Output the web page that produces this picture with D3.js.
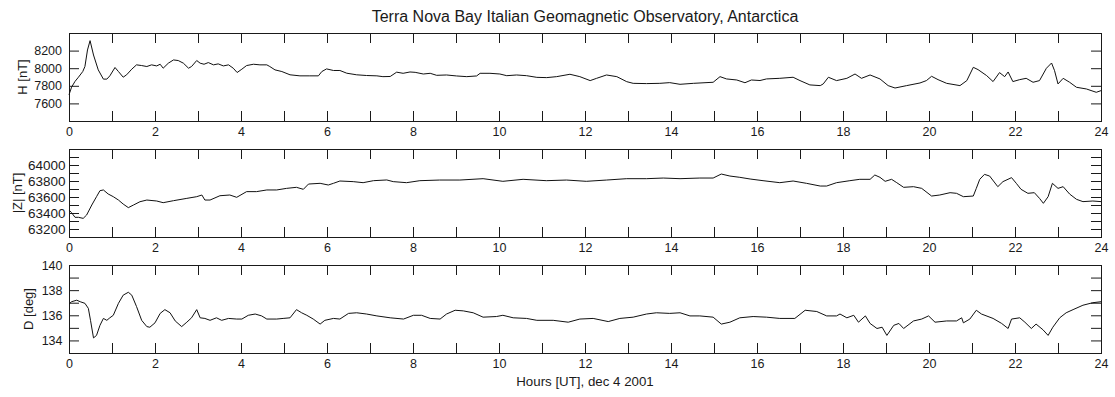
<!DOCTYPE html>
<html>
<head>
<meta charset="utf-8">
<script src="https://cdn.jsdelivr.net/npm/d3@7"></script>
<style>
  html, body { margin: 0; padding: 0; background: #fff; }
  svg { display: block; font-family: "Liberation Sans", Arial, sans-serif; }
</style>
</head>
<body>
<svg id="chart" width="1115" height="397"></svg>
<script>
// Terra Nova Bay magnetometer record, 4 Dec 2001 (hours UT vs. field value)
const hTime = [0,0.06,0.14,0.22,0.32,0.37,0.43,0.49,0.57,0.68,0.80,0.88,0.95,1.07,1.15,1.26,1.34,1.46,1.57,1.69,1.81,1.92,2.04,2.12,2.19,2.31,2.43,2.54,2.66,2.78,2.85,2.97,3.05,3.14,3.24,3.36,3.47,3.59,3.71,3.82,3.91,4.02,4.13,4.29,4.44,4.60,4.67,4.79,4.95,5.14,5.37,5.60,5.80,5.88,5.99,6.15,6.30,6.46,6.69,6.92,7.16,7.30,7.47,7.62,7.77,7.93,8.05,8.24,8.40,8.55,8.78,9.01,9.25,9.48,9.56,9.79,10.02,10.18,10.41,10.64,10.88,11.11,11.34,11.65,11.88,12.12,12.27,12.50,12.74,12.97,13.12,13.43,13.74,13.97,14.21,14.52,14.98,15.14,15.29,15.53,15.72,15.87,16.07,16.22,16.53,16.84,17.00,17.23,17.47,17.54,17.66,17.85,18.09,18.28,18.43,18.63,18.86,19.05,19.21,19.48,19.79,19.94,20.06,20.21,20.41,20.72,20.88,21.03,21.14,21.34,21.49,21.64,21.76,21.84,21.95,22.11,22.26,22.42,22.57,22.73,22.85,22.92,23.00,23.12,23.27,23.43,23.66,23.89,24.00];
const hValues = [7698,7785,7850,7898,7962,8019,8207,8313,8150,7981,7876,7876,7913,8008,7962,7898,7925,7989,8038,8030,8019,8038,8026,8045,8000,8057,8094,8087,8057,8000,8019,8087,8057,8045,8064,8038,8049,8026,8038,8000,7951,7989,8030,8045,8038,8038,8019,7981,7962,7925,7913,7913,7913,7962,7992,7974,7974,7943,7925,7917,7913,7904,7906,7955,7942,7957,7953,7934,7942,7919,7923,7912,7904,7912,7942,7942,7934,7915,7923,7915,7896,7893,7904,7931,7904,7859,7885,7923,7904,7847,7828,7825,7828,7836,7817,7828,7840,7904,7878,7866,7835,7866,7860,7878,7885,7897,7859,7810,7802,7821,7897,7859,7885,7934,7885,7923,7878,7802,7775,7802,7832,7859,7908,7870,7828,7802,7859,8010,7984,7916,7848,7950,7904,7957,7848,7870,7885,7840,7859,7999,8059,7972,7821,7885,7840,7783,7764,7726,7745];

const zTime = [0,0.06,0.14,0.22,0.33,0.41,0.53,0.64,0.72,0.80,0.91,1.03,1.15,1.26,1.38,1.50,1.65,1.81,2.04,2.19,2.43,2.74,2.97,3.09,3.16,3.28,3.51,3.74,3.90,4.13,4.36,4.60,4.83,5.06,5.29,5.45,5.57,5.84,6.03,6.15,6.30,6.61,6.84,7.08,7.39,7.54,7.85,8.16,8.62,9.09,9.63,10.09,10.56,11.10,11.57,12.03,12.50,12.97,13.43,13.82,14.21,14.67,14.98,15.17,15.37,15.60,15.84,16.14,16.53,16.84,17.15,17.47,17.62,17.85,18.16,18.39,18.63,18.74,18.86,18.98,19.13,19.25,19.41,19.64,19.83,20.06,20.25,20.49,20.64,20.80,21.03,21.10,21.18,21.29,21.41,21.60,21.72,21.92,22.03,22.14,22.30,22.45,22.57,22.66,22.77,22.87,23.00,23.12,23.27,23.43,23.58,23.81,24.00];
const zValues = [63437,63404,63346,63346,63333,63375,63500,63604,63679,63688,63638,63604,63562,63512,63467,63500,63541,63562,63550,63529,63554,63583,63604,63625,63562,63562,63616,63625,63596,63667,63667,63688,63688,63708,63721,63696,63762,63771,63750,63771,63800,63792,63779,63804,63813,63792,63779,63804,63812,63812,63829,63796,63821,63804,63812,63796,63812,63829,63829,63837,63829,63837,63837,63887,63862,63846,63825,63804,63779,63800,63771,63737,63737,63779,63804,63821,63821,63875,63846,63796,63821,63779,63721,63729,63708,63612,63625,63654,63646,63604,63612,63708,63821,63883,63862,63729,63792,63842,63771,63696,63646,63654,63583,63521,63604,63771,63708,63729,63637,63571,63542,63550,63542];

const dTime = [0,0.06,0.18,0.26,0.37,0.45,0.50,0.57,0.64,0.72,0.80,0.88,0.95,1.03,1.15,1.26,1.38,1.46,1.57,1.69,1.81,1.88,2.00,2.12,2.23,2.35,2.47,2.62,2.74,2.85,2.97,3.05,3.16,3.28,3.43,3.55,3.71,3.90,4.02,4.17,4.33,4.48,4.60,4.83,4.98,5.14,5.29,5.41,5.53,5.68,5.84,5.95,6.15,6.30,6.50,6.69,6.92,7.16,7.47,7.78,8.01,8.20,8.40,8.63,8.78,8.98,9.17,9.40,9.63,9.94,10.09,10.33,10.64,10.88,11.26,11.61,11.88,12.19,12.54,12.81,13.12,13.43,13.66,13.97,14.21,14.44,14.67,14.98,15.17,15.37,15.60,15.91,16.22,16.53,16.88,17.12,17.39,17.62,17.85,17.93,18.09,18.25,18.36,18.52,18.63,18.79,18.91,19.02,19.18,19.30,19.41,19.64,19.83,19.99,20.14,20.41,20.64,20.76,20.80,20.95,21.10,21.22,21.49,21.69,21.84,21.92,22.11,22.23,22.38,22.49,22.65,22.77,22.88,23.04,23.19,23.35,23.58,23.81,24.00];
const dValues = [136.9,137.08,137.2,137.08,136.95,136.55,135.6,134.2,134.4,135.2,135.75,135.6,135.8,136.0,136.95,137.6,137.83,137.6,136.7,135.6,135.1,135.05,135.4,136.15,136.45,136.2,135.55,135.1,135.45,135.8,136.45,135.8,135.75,135.6,135.8,135.6,135.75,135.7,135.7,136.0,136.1,135.95,135.7,135.7,135.75,135.8,136.45,136.2,136.0,135.7,135.3,135.6,135.75,135.7,136.15,136.2,136.1,135.95,135.8,135.7,136.0,136.0,135.75,135.7,136.1,136.4,136.35,136.2,135.85,135.9,136.0,135.8,135.75,135.6,135.6,135.45,135.7,135.75,135.5,135.75,135.85,136.1,136.2,136.15,136.2,135.95,135.95,135.85,135.3,135.45,135.8,135.9,135.85,135.75,135.75,136.4,136.3,135.95,135.95,136.1,135.8,136.0,135.45,135.95,135.35,134.95,135.05,134.4,135.2,135.35,134.95,135.55,135.7,135.95,135.45,135.55,135.55,135.8,135.4,135.7,136.4,136.1,135.75,135.35,134.95,135.7,135.8,135.45,134.95,135.3,134.85,134.4,135.05,135.8,136.2,136.45,136.8,137.0,137.08];

// Axis definitions
const hourTicks = d3.range(0, 25, 1);
const hTicks = [7600, 7800, 8000, 8200];
const hLabels = [7600, 7800, 8000, 8200];
const zTicks = d3.range(63200, 64101, 100);
const zLabels = [63200, 63400, 63600, 63800, 64000];
const dTicks = [134, 135, 136, 137, 138, 139, 140];
const dLabels = [134, 136, 138, 140];

const titleText = "Terra Nova Bay Italian Geomagnetic Observatory, Antarctica";
const xLabelText = "Hours [UT], dec 4 2001";

const panels = [
  { time: hTime, values: hValues, domain: [7400, 8400], ticks: hTicks, labels: hLabels,
    ylabel: "H [nT]", top: 33, labelX: 27, tickFont: 12.5, tickPad: 7 },
  { time: zTime, values: zValues, domain: [63100, 64200], ticks: zTicks, labels: zLabels,
    ylabel: "|Z| [nT]", top: 149, labelX: 22, tickFont: 13.5, tickPad: 3.5 },
  { time: dTime, values: dValues, domain: [133, 140], ticks: dTicks, labels: dLabels,
    ylabel: "D [deg]", top: 265, labelX: 33, tickFont: 12.5, tickPad: 6.5 }
];

const left = 69, right = 1101, panelH = 88;
const ink = "#1a1a1a";

const svg = d3.select("#chart");

const x = d3.scaleLinear().domain([0, 24]).range([left, right]);

svg.append("text")
  .attr("x", (left + right) / 2).attr("y", 21.5)
  .attr("text-anchor", "middle")
  .attr("font-size", 16).attr("fill", ink)
  .text(titleText);

panels.forEach(p => {
  const y = d3.scaleLinear().domain(p.domain).range([p.top + panelH, p.top]);
  const g = svg.append("g");

  const fmtY = d => p.labels.includes(d) ? String(d) : "";
  const fmtX = d => d % 2 === 0 ? String(d) : "";

  const styleAxis = size => sel => {
    sel.select(".domain").remove();
    sel.selectAll(".tick line").attr("stroke", ink);
    sel.selectAll(".tick text").attr("fill", ink)
      .attr("font-size", size)
      .attr("font-family", "Liberation Sans, Arial, sans-serif");
  };

  g.append("g").attr("transform", `translate(0,${p.top + panelH})`)
    .call(d3.axisBottom(x).tickValues(hourTicks).tickSize(-10).tickPadding(6.5).tickFormat(fmtX))
    .call(styleAxis(12.5));
  g.append("g").attr("transform", `translate(0,${p.top})`)
    .call(d3.axisTop(x).tickValues(hourTicks).tickSize(-10).tickFormat(""))
    .call(styleAxis(12.5));
  g.append("g").attr("transform", `translate(${left},0)`)
    .call(d3.axisLeft(y).tickValues(p.ticks).tickSize(-10).tickPadding(p.tickPad).tickFormat(fmtY))
    .call(styleAxis(p.tickFont));
  g.append("g").attr("transform", `translate(${right},0)`)
    .call(d3.axisRight(y).tickValues(p.ticks).tickSize(-10).tickFormat(""))
    .call(styleAxis(12.5));

  g.append("rect")
    .attr("x", left + 0.5).attr("y", p.top + 0.5)
    .attr("width", right - left).attr("height", panelH)
    .attr("fill", "none").attr("stroke", ink).attr("stroke-width", 1);

  const pts = p.time.map((t, i) => [t, p.values[i]]);
  const line = d3.line().x(d => x(d[0])).y(d => y(d[1]));
  g.append("path")
    .attr("d", line(pts))
    .attr("fill", "none").attr("stroke", "#111").attr("stroke-width", 1)
    .attr("stroke-linejoin", "round");

  g.append("text")
    .attr("transform", `translate(${p.labelX},${p.top + panelH / 2}) rotate(-90)`)
    .attr("text-anchor", "middle")
    .attr("font-size", 13).attr("fill", ink)
    .text(p.ylabel);
});

svg.append("text")
  .attr("x", (left + right) / 2).attr("y", 386)
  .attr("text-anchor", "middle")
  .attr("font-size", 13.3).attr("fill", ink)
  .text(xLabelText);
</script>
</body>
</html>
